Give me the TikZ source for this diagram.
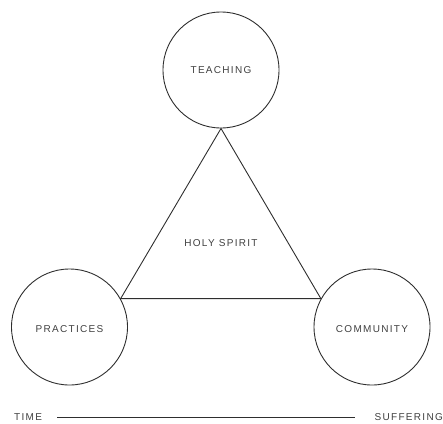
\documentclass[tikz,border=0pt]{standalone}
\usepackage{fontspec}
\setmainfont{Liberation Sans}[LetterSpace=13]
\definecolor{ink}{HTML}{2E2E2E}
\definecolor{txt}{HTML}{404040}
\begin{document}
\begin{tikzpicture}[x=1pt,y=-1pt,
  circ/.style={circle,draw=ink,line width=0.9pt,minimum size=116pt,inner sep=0pt},
  lbl/.style={text=txt,font=\fontsize{10}{12}\selectfont,inner sep=0pt},
  edge/.style={draw=ink,line width=0.9pt}]
\useasboundingbox (0,0) rectangle (443,423);
\node[circ] (T) at (221,70) {};
\node[circ] (P) at (69.5,327) {};
\node[circ] (C) at (372,327) {};
\node[lbl] (tl) at (221,70) {TEACHING};
\node[lbl] (pl) at (69.5,329) {PRACTICES};
\node[lbl] (cl) at (372,329) {COMMUNITY};
\node[lbl] (hs) at (221,243) {HOLY SPIRIT};
\draw[edge,line join=miter] (T.south) -- (P.29) -- (C.151) -- cycle;
\node[lbl,anchor=west] (time) at (14,417) {TIME};
\node[lbl,anchor=east] (suf) at (443,417) {SUFFERING};
\draw[edge] ([xshift=15pt]time.east) -- ([xshift=-19pt]suf.west);
\end{tikzpicture}
\end{document}
